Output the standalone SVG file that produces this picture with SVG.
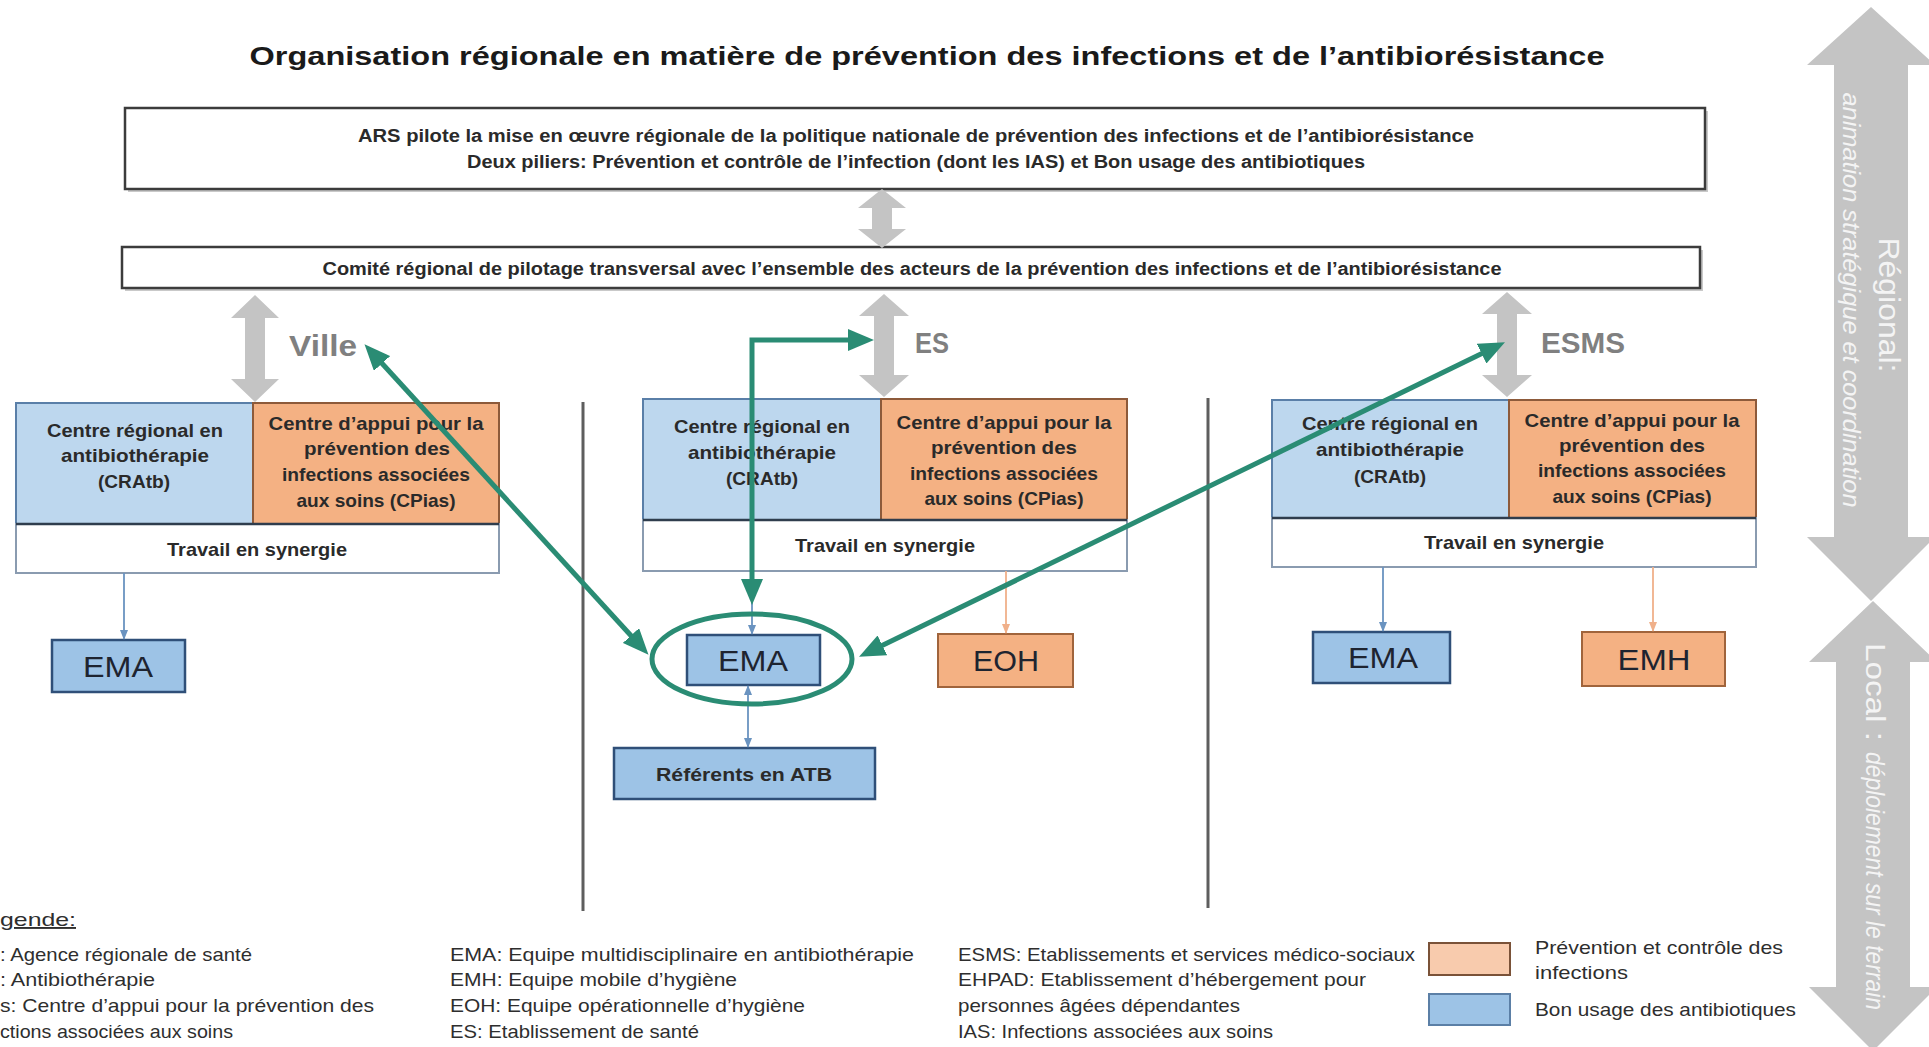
<svg xmlns="http://www.w3.org/2000/svg" width="1929" height="1047" viewBox="0 0 1929 1047">
<style>
text{font-family:"Liberation Sans",Arial,sans-serif;}
.title{font-size:26px;font-weight:bold;fill:#1a1a1a;}
.hdr{font-size:18px;font-weight:bold;fill:#2a2a2a;}
.bx{font-size:19px;font-weight:bold;fill:#2a2a2a;}
.big{font-size:30px;fill:#1e2430;}
.lbl{font-size:30px;font-weight:bold;fill:#808080;}
.leg{font-size:19px;fill:#2e2e2e;}
.side{fill:#f4f4f4;}
.frame{fill:#fff;stroke:#3c3c3c;stroke-width:2.5;}
.shadow{fill:#c9c9c9;}
.gray{fill:#c4c4c4;}
.blue{fill:#bdd7ee;stroke:#5a7fa8;stroke-width:2;}
.orange{fill:#f4b183;stroke:#8d5a3a;stroke-width:2;}
.syn{fill:#fff;stroke:#8a9bb0;stroke-width:2;}
.ema{fill:#9dc3e6;stroke:#2f4f78;stroke-width:2.5;}
.eoh{fill:#f4b183;stroke:#a0643c;stroke-width:2;}
.div{stroke:#5e5e5e;stroke-width:3;}
.green{fill:none;stroke:#2a8c74;stroke-width:5;}
.thinb{stroke:#6a93c0;stroke-width:1.8;fill:none;}
.thino{stroke:#f0b08a;stroke-width:1.8;fill:none;}
</style>
<defs>
<marker id="gh" viewBox="0 0 26 22" refX="6" refY="11" markerWidth="26" markerHeight="22" markerUnits="userSpaceOnUse" orient="auto-start-reverse"><path d="M0,0 L26,11 L0,22 z" fill="#2a8c74"/></marker>
<marker id="bh" viewBox="0 0 10 8" refX="9" refY="4" markerWidth="10" markerHeight="8" markerUnits="userSpaceOnUse" orient="auto-start-reverse"><path d="M0,0 L10,4 L0,8 z" fill="#6a93c0"/></marker>
<marker id="oh" viewBox="0 0 10 8" refX="9" refY="4" markerWidth="10" markerHeight="8" markerUnits="userSpaceOnUse" orient="auto-start-reverse"><path d="M0,0 L10,4 L0,8 z" fill="#f0b08a"/></marker>
</defs>
<rect width="1929" height="1047" fill="#fff"/>

<text class="title" x="927" y="65" text-anchor="middle" textLength="1355" lengthAdjust="spacingAndGlyphs">Organisation régionale en matière de prévention des infections et de l’antibiorésistance</text>

<!-- right side arrows -->
<g id="side-regional">
<polygon class="gray" points="1871,7 1935,65 1908,65 1908,537 1935,537 1871,601 1807,537 1834,537 1834,65 1807,65"/>
<text class="side" transform="translate(1879,305) rotate(90)" text-anchor="middle" font-size="30" textLength="135" lengthAdjust="spacingAndGlyphs">Régional:</text>
<text class="side" transform="translate(1843,300) rotate(90)" text-anchor="middle" font-size="23" font-style="italic" textLength="415" lengthAdjust="spacingAndGlyphs">animation stratégique et coordination</text>
</g>
<g id="side-local">
<polygon class="gray" points="1873,601 1937,662 1910,662 1910,987 1937,987 1873,1051 1809,987 1836,987 1836,662 1809,662"/>
<text class="side" transform="translate(1866,643) rotate(90)" font-size="27" textLength="98" lengthAdjust="spacingAndGlyphs">Local :</text>
<text class="side" transform="translate(1866,752) rotate(90)" font-size="25" font-style="italic" textLength="258" lengthAdjust="spacingAndGlyphs">déploiement sur le terrain</text>
</g>

<g id="ars">
<rect class="shadow" x="128" y="111" width="1580" height="81"/>
<rect class="frame" x="125" y="108" width="1580" height="81"/>
<text class="hdr" x="916" y="142" text-anchor="middle" textLength="1116" lengthAdjust="spacingAndGlyphs">ARS  pilote la mise en œuvre régionale de la politique nationale de prévention des infections et de l’antibiorésistance</text>
<text class="hdr" x="916" y="168" text-anchor="middle" textLength="898" lengthAdjust="spacingAndGlyphs">Deux piliers: Prévention et contrôle de l’infection (dont les IAS) et Bon usage des antibiotiques</text>
</g>

<g id="comite">
<rect class="shadow" x="125" y="250" width="1578" height="41"/>
<rect class="frame" x="122" y="247" width="1578" height="41"/>
<text class="hdr" x="912" y="275" text-anchor="middle" textLength="1179" lengthAdjust="spacingAndGlyphs">Comité régional de pilotage transversal avec l’ensemble des acteurs de la prévention des infections et de l’antibiorésistance</text>
</g>

<g id="gray-arrows">
<polygon class="gray" points="882,189 906,208 892,208 892,229 906,229 882,248 858,229 872,229 872,208 858,208"/>
<polygon class="gray" points="255,295 279,318 265,318 265,379 279,379 255,402 231,379 245,379 245,318 231,318"/>
<polygon class="gray" points="884,294 909,316 894,316 894,375 909,375 884,397 859,375 874,375 874,316 859,316"/>
<polygon class="gray" points="1507,292 1532,314 1517,314 1517,375 1532,375 1507,397 1482,375 1497,375 1497,314 1482,314"/>
</g>

<g id="labels">
<text class="lbl" x="289" y="356" textLength="68" lengthAdjust="spacingAndGlyphs">Ville</text>
<text class="lbl" x="915" y="353" textLength="34" lengthAdjust="spacingAndGlyphs">ES</text>
<text class="lbl" x="1541" y="353" textLength="84" lengthAdjust="spacingAndGlyphs">ESMS</text>
</g>

<!-- column 1 -->
<g id="col-ville">
<rect class="blue" x="16" y="403" width="237" height="121"/>
<rect class="orange" x="253" y="403" width="246" height="121"/>
<rect class="syn" x="16" y="524" width="483" height="49"/>
<line x1="16" y1="524" x2="499" y2="524" stroke="#2f3d4d" stroke-width="2.5"/>
<text class="bx" x="135" y="437" text-anchor="middle" textLength="176" lengthAdjust="spacingAndGlyphs">Centre régional en</text>
<text class="bx" x="135" y="462" text-anchor="middle" textLength="148" lengthAdjust="spacingAndGlyphs">antibiothérapie</text>
<text class="bx" x="134" y="488" text-anchor="middle" textLength="72" lengthAdjust="spacingAndGlyphs">(CRAtb)</text>
<text class="bx" x="376" y="430" text-anchor="middle" textLength="215" lengthAdjust="spacingAndGlyphs">Centre d’appui pour la</text>
<text class="bx" x="377" y="455" text-anchor="middle" textLength="146" lengthAdjust="spacingAndGlyphs">prévention des</text>
<text class="bx" x="376" y="481" text-anchor="middle" textLength="188" lengthAdjust="spacingAndGlyphs">infections associées</text>
<text class="bx" x="376" y="507" text-anchor="middle" textLength="159" lengthAdjust="spacingAndGlyphs">aux soins (CPias)</text>
<text class="bx" x="257" y="556" text-anchor="middle" textLength="180" lengthAdjust="spacingAndGlyphs">Travail en synergie</text>
</g>
<g id="ema-ville">
<rect class="ema" x="52" y="640" width="133" height="52"/>
<text class="big" x="118" y="677" text-anchor="middle" textLength="70" lengthAdjust="spacingAndGlyphs">EMA</text>
</g>

<!-- column 2 -->
<g id="col-es">
<rect class="blue" x="643" y="399" width="238" height="121"/>
<rect class="orange" x="881" y="399" width="246" height="121"/>
<rect class="syn" x="643" y="520" width="484" height="51"/>
<line x1="643" y1="520" x2="1127" y2="520" stroke="#2f3d4d" stroke-width="2.5"/>
<text class="bx" x="762" y="433" text-anchor="middle" textLength="176" lengthAdjust="spacingAndGlyphs">Centre régional en</text>
<text class="bx" x="762" y="459" text-anchor="middle" textLength="148" lengthAdjust="spacingAndGlyphs">antibiothérapie</text>
<text class="bx" x="762" y="485" text-anchor="middle" textLength="72" lengthAdjust="spacingAndGlyphs">(CRAtb)</text>
<text class="bx" x="1004" y="429" text-anchor="middle" textLength="215" lengthAdjust="spacingAndGlyphs">Centre d’appui pour la</text>
<text class="bx" x="1004" y="454" text-anchor="middle" textLength="146" lengthAdjust="spacingAndGlyphs">prévention des</text>
<text class="bx" x="1004" y="480" text-anchor="middle" textLength="188" lengthAdjust="spacingAndGlyphs">infections associées</text>
<text class="bx" x="1004" y="505" text-anchor="middle" textLength="159" lengthAdjust="spacingAndGlyphs">aux soins (CPias)</text>
<text class="bx" x="885" y="552" text-anchor="middle" textLength="180" lengthAdjust="spacingAndGlyphs">Travail en synergie</text>
</g>
<g id="ema-es">
<rect class="ema" x="687" y="635" width="133" height="50"/>
<text class="big" x="753" y="671" text-anchor="middle" textLength="70" lengthAdjust="spacingAndGlyphs">EMA</text>
</g>
<g id="eoh">
<rect class="eoh" x="938" y="634" width="135" height="53"/>
<text class="big" x="1006" y="671" text-anchor="middle" textLength="66" lengthAdjust="spacingAndGlyphs">EOH</text>
</g>
<g id="referents">
<rect class="ema" x="614" y="748" width="261" height="51"/>
<text class="bx" x="744" y="781" text-anchor="middle" textLength="176" lengthAdjust="spacingAndGlyphs">Référents en ATB</text>
</g>

<!-- column 3 -->
<g id="col-esms">
<rect class="blue" x="1272" y="400" width="237" height="118"/>
<rect class="orange" x="1509" y="400" width="247" height="118"/>
<rect class="syn" x="1272" y="518" width="484" height="49"/>
<line x1="1272" y1="518" x2="1756" y2="518" stroke="#2f3d4d" stroke-width="2.5"/>
<text class="bx" x="1390" y="430" text-anchor="middle" textLength="176" lengthAdjust="spacingAndGlyphs">Centre régional en</text>
<text class="bx" x="1390" y="456" text-anchor="middle" textLength="148" lengthAdjust="spacingAndGlyphs">antibiothérapie</text>
<text class="bx" x="1390" y="483" text-anchor="middle" textLength="72" lengthAdjust="spacingAndGlyphs">(CRAtb)</text>
<text class="bx" x="1632" y="427" text-anchor="middle" textLength="215" lengthAdjust="spacingAndGlyphs">Centre d’appui pour la</text>
<text class="bx" x="1632" y="452" text-anchor="middle" textLength="146" lengthAdjust="spacingAndGlyphs">prévention des</text>
<text class="bx" x="1632" y="477" text-anchor="middle" textLength="188" lengthAdjust="spacingAndGlyphs">infections associées</text>
<text class="bx" x="1632" y="503" text-anchor="middle" textLength="159" lengthAdjust="spacingAndGlyphs">aux soins (CPias)</text>
<text class="bx" x="1514" y="549" text-anchor="middle" textLength="180" lengthAdjust="spacingAndGlyphs">Travail en synergie</text>
</g>
<g id="ema-esms">
<rect class="ema" x="1313" y="632" width="137" height="51"/>
<text class="big" x="1383" y="668" text-anchor="middle" textLength="70" lengthAdjust="spacingAndGlyphs">EMA</text>
</g>
<g id="emh">
<rect class="eoh" x="1582" y="632" width="143" height="54"/>
<text class="big" x="1654" y="670" text-anchor="middle" textLength="73" lengthAdjust="spacingAndGlyphs">EMH</text>
</g>

<!-- dividers -->
<g id="dividers">
<line class="div" x1="583" y1="402" x2="583" y2="911"/>
<line class="div" x1="1208" y1="398" x2="1208" y2="908"/>
</g>

<!-- connectors -->
<g id="connectors">
<line class="thinb" x1="124" y1="573" x2="124" y2="639" marker-end="url(#bh)"/>
<line class="thinb" x1="752" y1="571" x2="752" y2="634" marker-end="url(#bh)"/>
<line class="thinb" x1="748" y1="686" x2="748" y2="747" marker-start="url(#bh)" marker-end="url(#bh)"/>
<line class="thino" x1="1006" y1="571" x2="1006" y2="633" marker-end="url(#oh)"/>
<line class="thinb" x1="1383" y1="567" x2="1383" y2="631" marker-end="url(#bh)"/>
<line class="thino" x1="1653" y1="567" x2="1653" y2="631" marker-end="url(#oh)"/>
<ellipse class="green" cx="752" cy="659" rx="100" ry="45" stroke-width="13"/>
<line class="green" x1="378" y1="359" x2="635" y2="640" stroke-width="5.5" marker-start="url(#gh)" marker-end="url(#gh)"/>
<path class="green" d="M752,585 L752,340 L854,340" stroke-width="5.5" marker-start="url(#gh)" marker-end="url(#gh)"/>
<line class="green" x1="877" y1="648" x2="1487" y2="351" stroke-width="5.5" marker-start="url(#gh)" marker-end="url(#gh)"/>
</g>

<!-- legend -->
<g id="legend">
<text class="leg" x="0" y="926" text-decoration="underline" textLength="76" lengthAdjust="spacingAndGlyphs">gende:</text>
<text class="leg" x="0" y="961" textLength="252" lengthAdjust="spacingAndGlyphs">: Agence régionale de santé</text>
<text class="leg" x="0" y="986" textLength="155" lengthAdjust="spacingAndGlyphs">: Antibiothérapie</text>
<text class="leg" x="0" y="1012" textLength="374" lengthAdjust="spacingAndGlyphs">s: Centre d’appui pour la prévention des</text>
<text class="leg" x="0" y="1038" textLength="233" lengthAdjust="spacingAndGlyphs">ctions associées aux soins</text>
<text class="leg" x="450" y="961" textLength="464" lengthAdjust="spacingAndGlyphs">EMA: Equipe multidisciplinaire en antibiothérapie</text>
<text class="leg" x="450" y="986" textLength="287" lengthAdjust="spacingAndGlyphs">EMH: Equipe mobile d’hygiène</text>
<text class="leg" x="450" y="1012" textLength="355" lengthAdjust="spacingAndGlyphs">EOH: Equipe opérationnelle d’hygiène</text>
<text class="leg" x="450" y="1038" textLength="249" lengthAdjust="spacingAndGlyphs">ES: Etablissement de santé</text>
<text class="leg" x="958" y="961" textLength="457" lengthAdjust="spacingAndGlyphs">ESMS: Etablissements et services médico-sociaux</text>
<text class="leg" x="958" y="986" textLength="408" lengthAdjust="spacingAndGlyphs">EHPAD: Etablissement d’hébergement pour</text>
<text class="leg" x="958" y="1012" textLength="282" lengthAdjust="spacingAndGlyphs">personnes âgées dépendantes</text>
<text class="leg" x="958" y="1038" textLength="315" lengthAdjust="spacingAndGlyphs">IAS: Infections associées aux soins</text>
<rect x="1429" y="943" width="81" height="32" fill="#f8cbad" stroke="#7a5238" stroke-width="2"/>
<rect x="1429" y="994" width="81" height="31" fill="#9dc3e6" stroke="#5b7fa6" stroke-width="2"/>
<text class="leg" x="1535" y="954" textLength="248" lengthAdjust="spacingAndGlyphs">Prévention et contrôle des</text>
<text class="leg" x="1535" y="979" textLength="93" lengthAdjust="spacingAndGlyphs">infections</text>
<text class="leg" x="1535" y="1016" textLength="261" lengthAdjust="spacingAndGlyphs">Bon usage des antibiotiques</text>
</g>
</svg>
